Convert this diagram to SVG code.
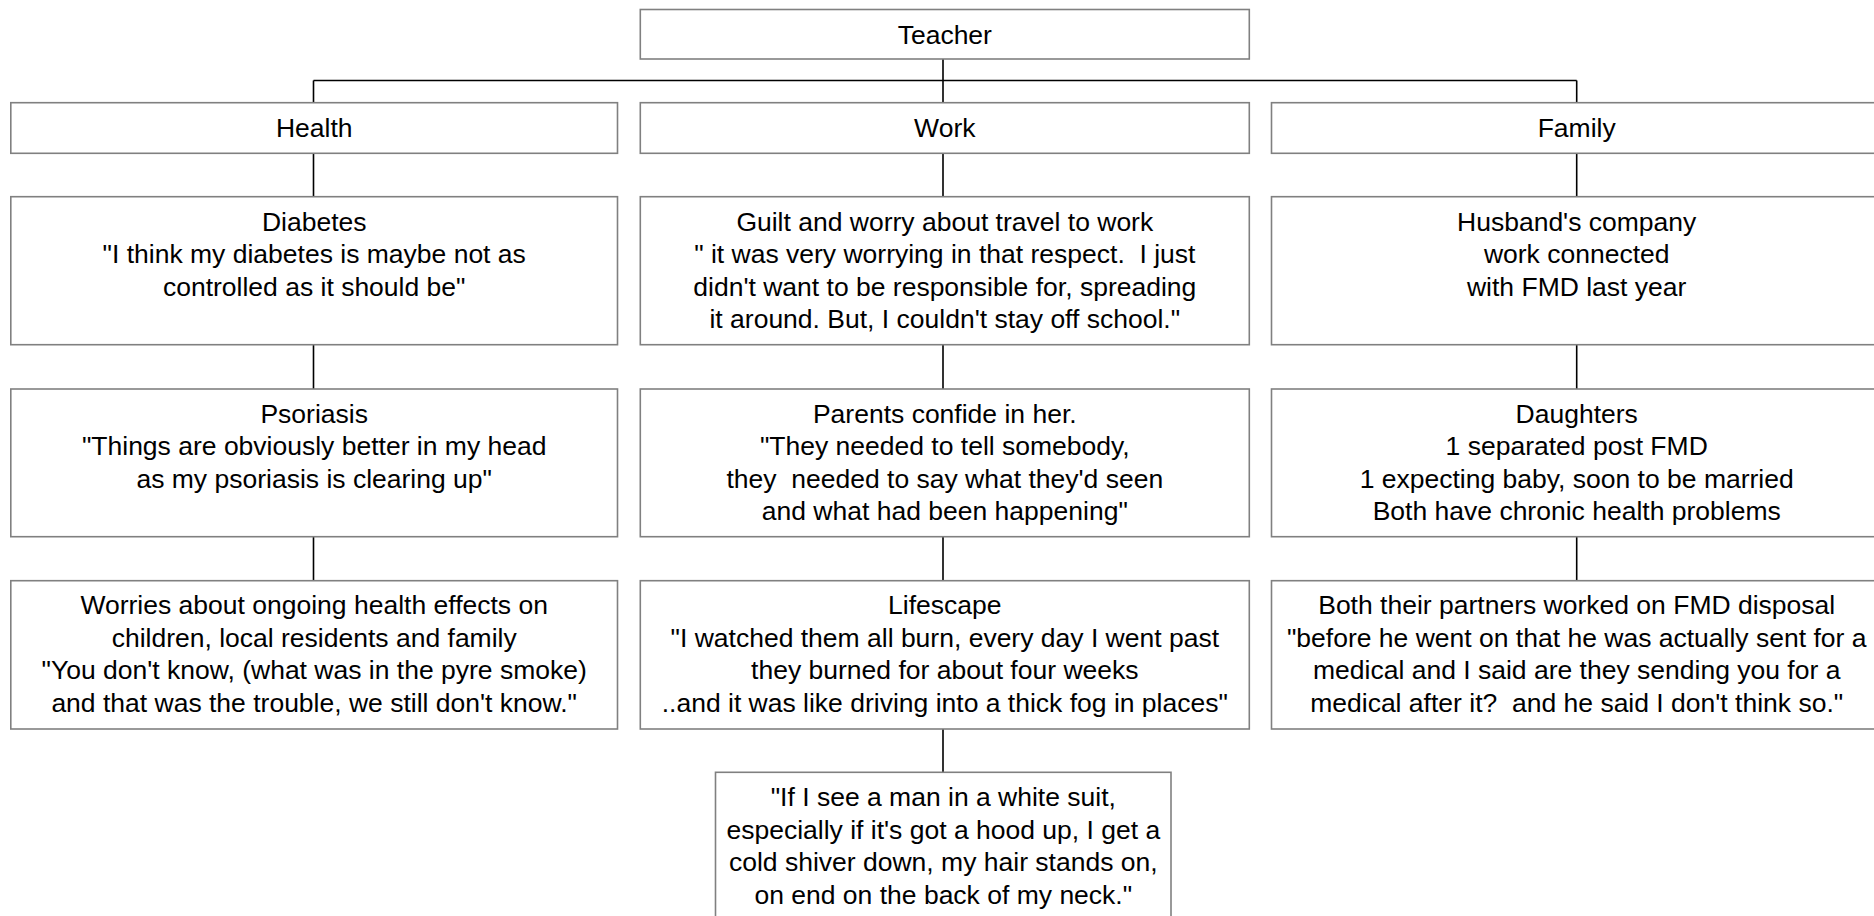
<svg xmlns="http://www.w3.org/2000/svg" width="1874" height="916" viewBox="0 0 1874 916">
<style>
.box{fill:#ffffff;stroke:#808080;stroke-width:1.6}
.t{font-family:"Liberation Sans",Arial,sans-serif;font-size:26.5px;fill:#000000;text-anchor:middle;white-space:pre}
.c{stroke:#000000;stroke-width:1.6;fill:none}
</style>
<rect width="1874" height="916" fill="#ffffff"/>
<g id="connectors">
<path class="c" d="M943,59 V103 M313.5,80.5 H1576.7 M313.5,80.5 V103 M1576.7,80.5 V103"/>
<path class="c" d="M313.5,153 V197 M313.5,345 V389 M313.5,537 V581"/>
<path class="c" d="M943,153 V197 M943,345 V389 M943,537 V581 M943,729 V772.5"/>
<path class="c" d="M1576.7,153 V197 M1576.7,345 V389 M1576.7,537 V581"/>
</g>
<g id="teacher"><rect class="box" x="640.3" y="9.5" width="609" height="49.5"/><text class="t" x="944.8" y="44.3">Teacher</text></g>
<g id="health"><rect class="box" x="10.8" y="102.7" width="606.7" height="50.6"/><text class="t" x="314.2" y="137">Health</text></g>
<g id="work"><rect class="box" x="640.3" y="102.7" width="609" height="50.6"/><text class="t" x="944.8" y="137">Work</text></g>
<g id="family"><rect class="box" x="1271.5" y="102.7" width="612" height="50.6"/><text class="t" x="1576.7" y="137">Family</text></g>

<g id="diabetes"><rect class="box" x="10.8" y="196.7" width="606.7" height="148"/>
<text class="t" x="314.2" y="230.5">Diabetes</text>
<text class="t" x="314.2" y="263">"I think my diabetes is maybe not as</text>
<text class="t" x="314.2" y="295.5">controlled as it should be"</text></g>
<g id="guilt"><rect class="box" x="640.3" y="196.7" width="609" height="148"/>
<text class="t" x="944.8" y="230.5">Guilt and worry about travel to work</text>
<text class="t" x="944.8" y="263">" it was very worrying in that respect.  I just</text>
<text class="t" x="944.8" y="295.5">didn't want to be responsible for, spreading</text>
<text class="t" x="944.8" y="328">it around. But, I couldn't stay off school."</text></g>
<g id="husband"><rect class="box" x="1271.5" y="196.7" width="612" height="148"/>
<text class="t" x="1576.7" y="230.5">Husband's company</text>
<text class="t" x="1576.7" y="263">work connected</text>
<text class="t" x="1576.7" y="295.5">with FMD last year</text></g>

<g id="psoriasis"><rect class="box" x="10.8" y="389" width="606.7" height="147.7"/>
<text class="t" x="314.2" y="422.5">Psoriasis</text>
<text class="t" x="314.2" y="455">"Things are obviously better in my head</text>
<text class="t" x="314.2" y="487.5">as my psoriasis is clearing up"</text></g>
<g id="parents"><rect class="box" x="640.3" y="389" width="609" height="147.7"/>
<text class="t" x="944.8" y="422.5">Parents confide in her.</text>
<text class="t" x="944.8" y="455">"They needed to tell somebody,</text>
<text class="t" x="944.8" y="487.5">they  needed to say what they'd seen</text>
<text class="t" x="944.8" y="520">and what had been happening"</text></g>
<g id="daughters"><rect class="box" x="1271.5" y="389" width="612" height="147.7"/>
<text class="t" x="1576.7" y="422.5">Daughters</text>
<text class="t" x="1576.7" y="455">1 separated post FMD</text>
<text class="t" x="1576.7" y="487.5">1 expecting baby, soon to be married</text>
<text class="t" x="1576.7" y="520">Both have chronic health problems</text></g>

<g id="worries"><rect class="box" x="10.8" y="580.7" width="606.7" height="148.3"/>
<text class="t" x="314.2" y="614">Worries about ongoing health effects on</text>
<text class="t" x="314.2" y="646.5">children, local residents and family</text>
<text class="t" x="314.2" y="679">"You don't know, (what was in the pyre smoke)</text>
<text class="t" x="314.2" y="711.5">and that was the trouble, we still don't know."</text></g>
<g id="lifescape"><rect class="box" x="640.3" y="580.7" width="609" height="148.3"/>
<text class="t" x="944.8" y="614">Lifescape</text>
<text class="t" x="944.8" y="646.5">"I watched them all burn, every day I went past</text>
<text class="t" x="944.8" y="679">they burned for about four weeks</text>
<text class="t" x="944.8" y="711.5">..and it was like driving into a thick fog in places"</text></g>
<g id="partners"><rect class="box" x="1271.5" y="580.7" width="612" height="148.3"/>
<text class="t" x="1576.7" y="614">Both their partners worked on FMD disposal</text>
<text class="t" x="1576.7" y="646.5">"before he went on that he was actually sent for a</text>
<text class="t" x="1576.7" y="679">medical and I said are they sending you for a</text>
<text class="t" x="1576.7" y="711.5">medical after it?  and he said I don't think so."</text></g>

<g id="whitesuit"><rect class="box" x="715.5" y="772.3" width="455.5" height="150"/>
<text class="t" x="943.3" y="806">"If I see a man in a white suit,</text>
<text class="t" x="943.3" y="838.5">especially if it's got a hood up, I get a</text>
<text class="t" x="943.3" y="871">cold shiver down, my hair stands on,</text>
<text class="t" x="943.3" y="903.5">on end on the back of my neck."</text></g>
</svg>
